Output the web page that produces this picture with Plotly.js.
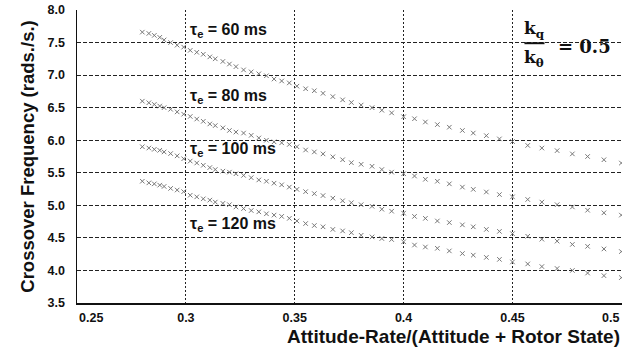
<!DOCTYPE html>
<html>
<head>
<meta charset="utf-8">
<script src="https://cdn.plot.ly/plotly-3.0.1.min.js"></script>
<style>html,body{margin:0;padding:0;background:#fff;}#chart{width:627px;height:349px;}</style>
</head>
<body>
<div id="chart"></div>
<script>
// x values (attitude-rate fraction), shared by all series
const ratio = [0.280,0.283,0.2855,0.288,0.290,0.293,0.296,0.299,0.302,0.305,0.308,0.311,0.3135,0.317,0.320,0.323,0.3265,0.330,0.3335,0.337,0.3405,0.344,0.3475,0.351,0.355,0.359,0.363,0.3675,0.372,0.376,0.3805,0.3855,0.390,0.3945,0.400,0.405,0.410,0.4155,0.421,0.427,0.432,0.438,0.444,0.450,0.457,0.4635,0.4705,0.4775,0.4845,0.492,0.500];

const tau60 = [7.66,7.64,7.61,7.58,7.54,7.50,7.46,7.43,7.38,7.35,7.32,7.28,7.25,7.21,7.17,7.13,7.08,7.05,7.02,6.99,6.94,6.91,6.88,6.83,6.79,6.76,6.72,6.67,6.62,6.58,6.54,6.50,6.46,6.42,6.36,6.33,6.28,6.24,6.20,6.15,6.11,6.07,6.02,5.98,5.92,5.88,5.84,5.79,5.75,5.70,5.65];
const tau80 = [6.60,6.575,6.55,6.525,6.50,6.475,6.435,6.40,6.365,6.325,6.29,6.25,6.225,6.19,6.15,6.125,6.11,6.075,6.035,6.00,5.975,5.96,5.935,5.90,5.85,5.82,5.79,5.745,5.70,5.655,5.63,5.60,5.55,5.51,5.485,5.45,5.40,5.37,5.33,5.28,5.245,5.205,5.165,5.13,5.09,5.05,5.01,4.975,4.925,4.885,4.85];
const tau100 = [5.90,5.88,5.86,5.845,5.82,5.795,5.76,5.715,5.68,5.65,5.615,5.58,5.55,5.525,5.51,5.485,5.46,5.425,5.39,5.37,5.34,5.315,5.28,5.245,5.21,5.18,5.15,5.11,5.07,5.04,5.01,4.985,4.94,4.91,4.88,4.83,4.80,4.76,4.735,4.70,4.67,4.63,4.60,4.565,4.525,4.48,4.45,4.40,4.37,4.33,4.29];
const tau120 = [5.37,5.345,5.33,5.31,5.29,5.26,5.235,5.21,5.155,5.13,5.10,5.08,5.05,5.03,5.01,4.975,4.95,4.92,4.90,4.87,4.85,4.83,4.80,4.76,4.72,4.69,4.67,4.63,4.607,4.58,4.54,4.515,4.49,4.475,4.44,4.39,4.36,4.34,4.30,4.26,4.235,4.20,4.17,4.13,4.10,4.06,4.03,4.00,3.96,3.92,3.89];

const seriesLabels = ['60','80','100','120'];
const seriesData = [tau60, tau80, tau100, tau120];

const xTickVals = [0.25,0.3,0.35,0.4,0.45,0.5];
const xTickText = ['0.25','0.3','0.35','0.4','0.45','0.5'];
const yTickVals = [3.5,4.0,4.5,5.0,5.5,6.0,6.5,7.0,7.5,8.0];
const yTickText = ['3.5','4.0','4.5','5.0','5.5','6.0','6.5','7.0','7.5','8.0'];
const xTitle = 'Attitude-Rate/(Attitude + Rotor State)';
const yTitle = 'Crossover Frequency (rads./s.)';

const sans = 'Liberation Sans, Arial, sans-serif';
const traces = seriesData.map((ys, i) => ({
  x: ratio, y: ys, type: 'scatter', mode: 'markers',
  name: 'τe = ' + seriesLabels[i] + ' ms',
  marker: {symbol: 'x-thin', size: 4.5, line: {width: 1, color: '#777'}, color: '#777'},
  hoverinfo: 'skip'
}));

const labelPos = [7.68, 6.67, 5.85, 4.70];
const lblFont = {family: sans, size: 16, color: '#111'};
const annotations = seriesLabels.map((s, i) => ({
  x: 0.3008, y: labelPos[i], xref: 'x', yref: 'y', xanchor: 'left', yanchor: 'middle',
  text: '<b>τ<sub>e</sub> = ' + s + ' ms</b>', showarrow: false, font: lblFont
}));
const serif = {family: 'DejaVu Serif, Liberation Serif, serif', size: 17, color: '#111'};
annotations.push({x: 0.4601, y: 7.70, xref: 'x', yref: 'y', xanchor: 'center', yanchor: 'middle',
  text: '<b>k<sub>q</sub></b>', showarrow: false, font: serif});
annotations.push({x: 0.4601, y: 7.26, xref: 'x', yref: 'y', xanchor: 'center', yanchor: 'middle',
  text: '<b>k<sub>θ</sub></b>', showarrow: false, font: serif});
annotations.push({x: 0.4700, y: 7.44, xref: 'x', yref: 'y', xanchor: 'left', yanchor: 'middle',
  text: '<b>= 0.5</b>', showarrow: false, font: {family: serif.family, size: 18, color: '#111'}});
// end tick labels, kept inside the plot width as in the reference
const tickFont = {family: sans, size: 12.5, color: '#111', weight: 'bold'};
annotations.push({x: xTickVals[0], y: 0, xref: 'x', yref: 'paper', xanchor: 'left', yanchor: 'top',
  yshift: -6, text: xTickText[0], showarrow: false, font: tickFont});
annotations.push({x: xTickVals[5], y: 0, xref: 'x', yref: 'paper', xanchor: 'right', yanchor: 'top',
  yshift: -6, text: xTickText[5], showarrow: false, font: tickFont});
// x-axis title, right-aligned to the plot as in the reference
annotations.push({x: 1, y: 0, xref: 'paper', yref: 'paper', xanchor: 'right', yanchor: 'top',
  yshift: -21, text: '<b>' + xTitle + '</b>', showarrow: false,
  font: {family: sans, size: 19, color: '#111'}});

const layout = {
  width: 627, height: 349,
  margin: {l: 77, r: 5, t: 10, b: 46},
  paper_bgcolor: '#fff', plot_bgcolor: '#fff',
  showlegend: false,
  font: {family: sans, color: '#111'},
  xaxis: {
    range: [0.25, 0.5003], tickvals: xTickVals,
    ticktext: xTickText.map((t, i) => (i === 0 || i === xTickText.length - 1) ? '' : t),
    showgrid: true, gridcolor: '#222', gridwidth: 1, griddash: '2px,2px',
    showline: true, linecolor: '#111', linewidth: 1.5, zeroline: false,
    ticks: '', ticklabelstandoff: 2,
    tickfont: tickFont
  },
  yaxis: {
    range: [3.5, 8.0], tickvals: yTickVals, ticktext: yTickText,
    showgrid: true, gridcolor: '#222', gridwidth: 1, griddash: '4px,2px',
    showline: true, linecolor: '#111', linewidth: 1.5, zeroline: false,
    ticks: '', ticklabelstandoff: 8,
    tickfont: tickFont,
    title: {text: '<b>' + yTitle + '</b>', standoff: 8,
      font: {family: sans, size: 18.5, color: '#111'}}
  },
  shapes: [{type: 'line', xref: 'x', yref: 'y', x0: 0.4555, x1: 0.4647, y0: 7.49, y1: 7.49,
    line: {color: '#111', width: 2}}],
  annotations: annotations
};

Plotly.newPlot('chart', traces, layout, {staticPlot: true, displayModeBar: false});
</script>
</body>
</html>
